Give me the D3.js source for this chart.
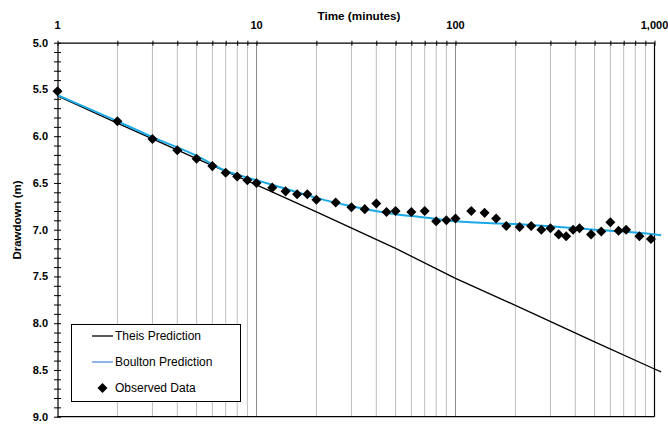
<!DOCTYPE html>
<html>
<head>
<meta charset="utf-8">
<script src="https://cdn.jsdelivr.net/npm/d3@7"></script>
<style>
  body { margin: 0; background: #fff; }
  svg text { font-family: Arial, "Liberation Sans", sans-serif; }
</style>
</head>
<body>
<svg id="chart" width="668" height="424"></svg>
<script>
// observed drawdown (time in minutes, drawdown in m)
var obsTime = [1, 2, 3, 4, 5, 6, 7, 8, 9, 10, 12, 14, 16, 18, 20, 25, 30, 35, 40, 45, 50, 60, 70, 80, 90, 100,
  120, 140, 160, 180, 210, 240, 270, 300, 330, 360, 390, 420, 480, 540, 600, 660, 720, 840, 960]
var obsDrawdown = [5.52, 5.84, 6.03, 6.15, 6.24, 6.32, 6.39, 6.43, 6.47, 6.50, 6.55, 6.59, 6.62, 6.62, 6.68, 6.71, 6.76, 6.78, 6.72, 6.81, 6.80, 6.81, 6.80, 6.91, 6.90, 6.88,
  6.80, 6.82, 6.88, 6.96, 6.97, 6.96, 7.00, 6.985, 7.05, 7.07, 7.00, 6.985, 7.05, 7.02, 6.92, 7.01, 7.00, 7.07, 7.10]

// Theis prediction
var theisTime = [1, 2, 5, 10, 20, 50, 100, 200, 500, 1000, 1080]
var theisDrawdown = [5.57, 5.86, 6.24, 6.52, 6.81, 7.20, 7.52, 7.81, 8.20, 8.49, 8.52]

// Boulton prediction
var boultonTime = [1, 2, 3, 5, 7, 10, 15, 20, 30, 50, 70, 100, 200, 500, 1000, 1080]
var boultonDrawdown = [5.56, 5.84, 6.01, 6.21, 6.37, 6.47, 6.58, 6.66, 6.75, 6.835, 6.87, 6.91, 6.94, 7.00, 7.05, 7.06]

var xTickLabels = ["1", "10", "100", "1,000"]
var yTickLabels = ["5.0", "5.5", "6.0", "6.5", "7.0", "7.5", "8.0", "8.5", "9.0"]
var legendNames = ["Theis Prediction", "Boulton Prediction", "Observed Data"]

var svg = d3.select("#chart"),
    margin = { top: 42.7, left: 57.5, right: 13.5, bottom: 7.3 },
    width = +svg.attr("width"),
    height = +svg.attr("height")

var x = d3.scaleLog().domain([1, 1000]).range([margin.left, width - margin.right])
var y = d3.scaleLinear().domain([5, 9]).range([margin.top, height - margin.bottom])

var boultonColor = "#1aa9e6"

// vertical grid lines at every log tick
var gridTicks = x.ticks().filter(function (d) { return d > 1 && d < 1000 })
svg.append("g")
    .selectAll("line")
    .data(gridTicks)
    .enter().append("line")
    .attr("x1", function (d) { return x(d) })
    .attr("x2", function (d) { return x(d) })
    .attr("y1", y(5))
    .attr("y2", y(9))
    .attr("stroke", function (d) { return (d === 10 || d === 100) ? "#8c8c8c" : "#bdbdbd" })
    .attr("stroke-width", 1)

// frame: right and bottom lines
svg.append("line")
    .attr("x1", x(1000)).attr("x2", x(1000))
    .attr("y1", y(5)).attr("y2", y(9))
    .attr("stroke", "#000").attr("stroke-width", 1.2)
svg.append("line")
    .attr("x1", x(1)).attr("x2", x(1000))
    .attr("y1", y(9)).attr("y2", y(9))
    .attr("stroke", "#000").attr("stroke-width", 1.2)

// top axis (log)
var xAxis = d3.axisTop(x)
    .tickValues(x.ticks())
    .tickSizeInner(-3)
    .tickSizeOuter(0)
    .tickFormat("")
var gx = svg.append("g")
    .attr("transform", "translate(0," + y(5) + ")")
    .call(xAxis)
gx.select(".domain").attr("stroke", "#000").attr("stroke-width", 1.2)
gx.selectAll(".tick line").attr("y1", -2).attr("y2", 3).attr("stroke", "#000")

svg.append("g")
    .selectAll("text")
    .data([1, 10, 100, 1000])
    .enter().append("text")
    .attr("x", function (d) { return x(d) })
    .attr("y", 29)
    .attr("text-anchor", "middle")
    .attr("font-size", "11px")
    .attr("font-weight", "bold")
    .text(function (d, i) { return xTickLabels[i] })

svg.append("text")
    .attr("x", 359)
    .attr("y", 19.5)
    .attr("text-anchor", "middle")
    .attr("font-size", "11.7px")
    .attr("font-weight", "bold")
    .text("Time (minutes)")

// left axis
var yAxis = d3.axisLeft(y)
    .tickValues(d3.range(0, 41).map(function (i) { return 5 + i / 10 }))
    .tickSizeOuter(0)
    .tickFormat("")
var gy = svg.append("g")
    .attr("transform", "translate(" + x(1) + ",0)")
    .call(yAxis)
gy.select(".domain").attr("stroke", "#000").attr("stroke-width", 1.2)
gy.selectAll(".tick line").attr("x1", -3.5).attr("x2", 3.5).attr("stroke", "#000")

svg.append("g")
    .selectAll("text")
    .data(d3.range(0, 9).map(function (i) { return 5 + i / 2 }))
    .enter().append("text")
    .attr("x", 48)
    .attr("y", function (d) { return y(d) + 3.9 })
    .attr("text-anchor", "end")
    .attr("font-size", "11px")
    .attr("font-weight", "bold")
    .text(function (d, i) { return yTickLabels[i] })

svg.append("text")
    .attr("transform", "translate(20.5,220) rotate(-90)")
    .attr("text-anchor", "middle")
    .attr("font-size", "11.5px")
    .attr("font-weight", "bold")
    .text("Drawdown (m)")

// prediction lines
var line = d3.line()
    .x(function (d) { return x(d[0]) })
    .y(function (d) { return y(d[1]) })

svg.append("path")
    .datum(d3.zip(theisTime, theisDrawdown))
    .attr("fill", "none")
    .attr("stroke", "#000")
    .attr("stroke-width", 1.3)
    .attr("d", line)

svg.append("path")
    .datum(d3.zip(boultonTime, boultonDrawdown))
    .attr("fill", "none")
    .attr("stroke", boultonColor)
    .attr("stroke-width", 2)
    .attr("d", line.curve(d3.curveMonotoneX))

// observed points
var diamond = d3.symbol().type(d3.symbolDiamond2).size(64)
svg.append("g")
    .selectAll("path")
    .data(d3.zip(obsTime, obsDrawdown))
    .enter().append("path")
    .attr("transform", function (d) { return "translate(" + x(d[0]) + "," + y(d[1]) + ")" })
    .attr("d", diamond)
    .attr("fill", "#000")

// legend
var legend = svg.append("g").attr("transform", "translate(71,324)")
legend.append("rect")
    .attr("x", 0.5).attr("y", 0.5)
    .attr("width", 169).attr("height", 77)
    .attr("fill", "#fff")
    .attr("stroke", "#000")
    .attr("stroke-width", 1)

var rows = [12, 38, 64]
legend.append("line")
    .attr("x1", 21).attr("x2", 42).attr("y1", rows[0]).attr("y2", rows[0])
    .attr("stroke", "#000").attr("stroke-width", 1.3)
legend.append("line")
    .attr("x1", 21).attr("x2", 42).attr("y1", rows[1]).attr("y2", rows[1])
    .attr("stroke", "#4f8fd8").attr("stroke-width", 1.3)
legend.append("path")
    .attr("transform", "translate(31.5," + rows[2] + ")")
    .attr("d", diamond)
    .attr("fill", "#000")

legend.selectAll("text.lab")
    .data(legendNames)
    .enter().append("text")
    .attr("class", "lab")
    .attr("x", 44)
    .attr("y", function (d, i) { return rows[i] + 4.2 })
    .attr("font-size", "12px")
    .text(function (d) { return d })
</script>
</body>
</html>
